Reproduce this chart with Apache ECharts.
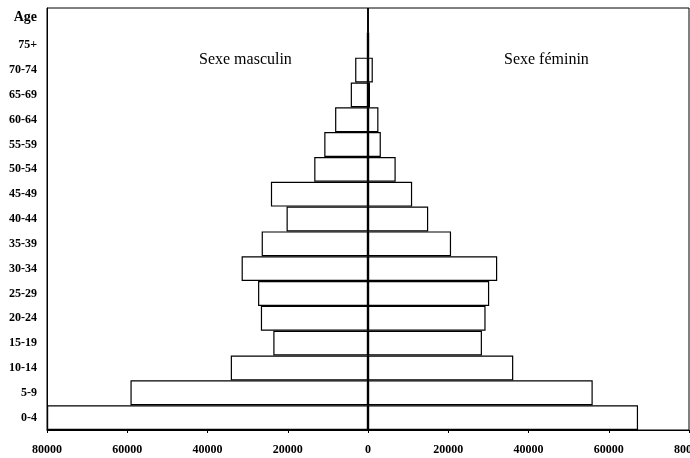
<!DOCTYPE html>
<html>
<head>
<meta charset="utf-8">
<script src="https://cdn.jsdelivr.net/npm/echarts@6/dist/echarts.min.js"></script>
<style>html,body{margin:0;padding:0;background:#fff;}#c{width:690px;height:458px;}</style>
</head>
<body>
<div id="c"></div>
<script>
// Age groups, bottom to top; "Age" is the axis heading row at the top
var ageGroups = ['0-4','5-9','10-14','15-19','20-24','25-29','30-34','35-39','40-44','45-49','50-54','55-59','60-64','65-69','70-74','75+','Age'];
var male   = [80000, 59200, 34200, 23600, 26700, 27400, 31500, 26500, 20300, 24200, 13400, 10900, 8200, 4300, 3200, 300, 0];
var female = [67300, 56000, 36200, 28400, 29300, 30200, 32200, 20700, 15000, 11000, 6900, 3200, 2600, 500, 1200, 300, 0];
var xTicks = { min: -80000, max: 80000, interval: 20000 };
var maleLabel = 'Sexe masculin';
var femaleLabel = 'Sexe féminin';

var chart = echarts.init(document.getElementById('c'), null, {renderer: 'canvas'});
var serif = '"Liberation Serif", "DejaVu Serif", serif';
var barStyle = { color: '#fff', borderColor: '#000', borderWidth: 1.2 };

chart.setOption({
  animation: false,
  backgroundColor: '#fff',
  grid: { left: 47, right: 1, top: 8, bottom: 28, show: true, borderColor: '#000', borderWidth: 1,
          containLabel: false, outerBoundsMode: 'none' },
  xAxis: {
    type: 'value', min: xTicks.min, max: xTicks.max, interval: xTicks.interval,
    splitLine: { show: false },
    axisLine: { show: true, lineStyle: { color: '#000', width: 1.2 } },
    axisTick: { show: true, length: 3, lineStyle: { color: '#000' } },
    axisLabel: {
      color: '#000', fontFamily: serif, fontWeight: 'bold', fontSize: 12, margin: 14,
      showMinLabel: true, showMaxLabel: true, hideOverlap: false,
      formatter: function (v) { return String(Math.abs(v)); }
    }
  },
  yAxis: {
    type: 'category', data: ageGroups, boundaryGap: true,
    axisLine: { show: true, onZero: false, lineStyle: { color: '#000' } },
    axisTick: { show: false },
    axisLabel: {
      color: '#000', fontFamily: serif, fontWeight: 'bold', fontSize: 12, margin: 10,
      formatter: function (v) { return v === 'Age' ? '{a|Age}' : v; },
      rich: { a: { fontFamily: serif, fontWeight: 'bold', fontSize: 14, color: '#000', padding: [0, 0, 6, 0] } }
    }
  },
  series: [
    {
      name: maleLabel, type: 'bar',
      data: male.map(function (v) { return -v; }),
      barCategoryGap: '0%', barGap: '-100%',
      itemStyle: barStyle,
      markLine: {
        silent: true, symbol: 'none', label: { show: false },
        lineStyle: { color: '#000', width: 1.5, type: 'solid' },
        data: [{ xAxis: 0 }]
      }
    },
    {
      name: femaleLabel, type: 'bar',
      data: female,
      barCategoryGap: '0%', barGap: '-100%',
      itemStyle: barStyle
    }
  ],
  graphic: [
    { type: 'text', left: 199, top: 52, style: { text: maleLabel, fill: '#000', font: '16px ' + serif } },
    { type: 'text', left: 504, top: 52, style: { text: femaleLabel, fill: '#000', font: '16px ' + serif } }
  ]
});
</script>
</body>
</html>
